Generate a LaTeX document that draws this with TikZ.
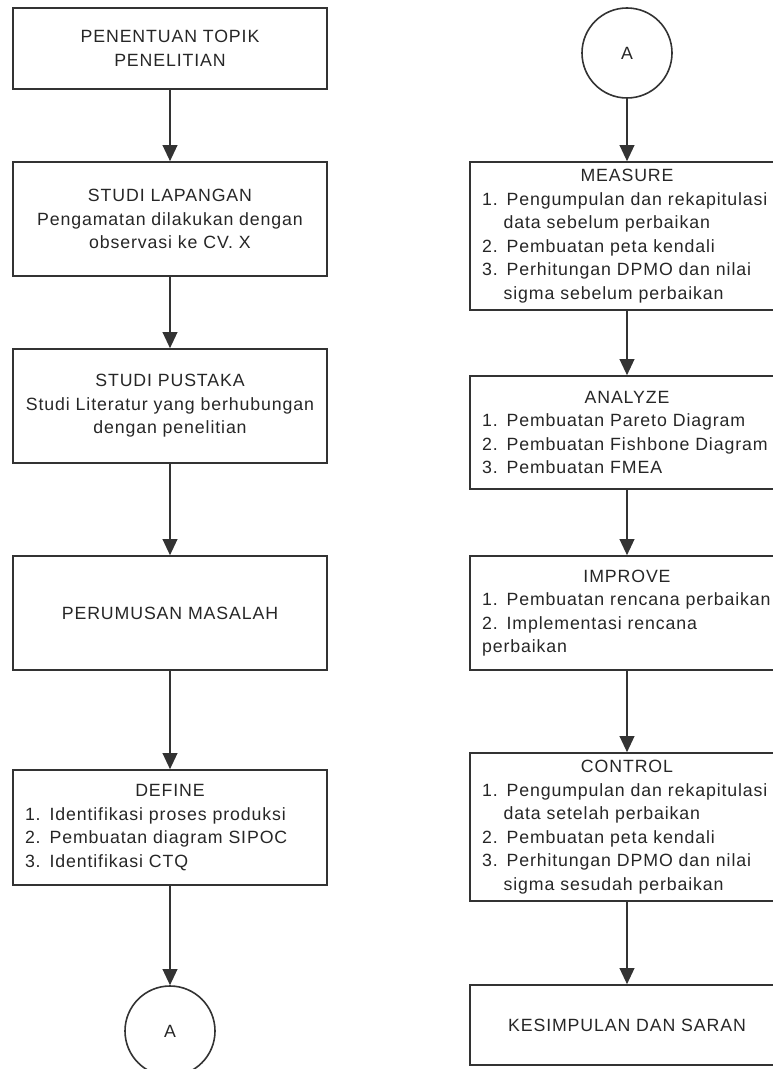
\documentclass[tikz,border=0pt]{standalone}
\usepackage{fontspec}
\setmainfont{Liberation Sans}[LetterSpace=5]
\usetikzlibrary{arrows.meta}
\newcommand{\hang}{\hphantom{1.\ }}

\begin{document}
\begin{tikzpicture}[x=0.75pt, y=-0.75pt,
 every node/.style={font=\fontsize{13.3}{17.6}\selectfont, text=black!85},
 box/.style={draw=black!80, line width=1.2pt, minimum width=235.5pt, inner sep=0pt},
 mid/.style={box, align=center},
 lst/.style={box, text width=217.5pt, align=left},
 con/.style={draw=black!80, line width=1.2pt, circle, minimum size=67.5pt, inner sep=0pt},
 arr/.style={draw=black!80, line width=1.2pt, -{Triangle[length=12pt,width=11pt]}}]
 \useasboundingbox (0,0) rectangle (773,1069);
 \clip (0,0) rectangle (773,1069);
 % left column
 \node[mid, minimum height=60.75pt] (topik) at (170,48.5) {PENENTUAN TOPIK\\PENELITIAN};
 \node[mid, minimum height=85.5pt] (lapangan) at (170,219) {STUDI LAPANGAN\\Pengamatan dilakukan dengan\\observasi ke CV. X};
 \node[mid, minimum height=85.5pt] (pustaka) at (170,406) {STUDI PUSTAKA\\Studi Literatur yang berhubungan\\dengan penelitian};
 \node[mid, minimum height=85.5pt] (masalah) at (170,613) {PERUMUSAN MASALAH};
 \node[lst, minimum height=86.25pt] (define) at (170,827.5) {\makebox[\linewidth]{DEFINE}\\1. Identifikasi proses produksi\\2. Pembuatan diagram SIPOC\\3. Identifikasi CTQ};
 \node[con] (a1) at (170,1031) {A};
 % right column
 \node[con] (a2) at (627,53) {A};
 \node[lst, minimum height=111pt] (measure) at (627,236) {\makebox[\linewidth]{MEASURE}\\1. Pengumpulan dan rekapitulasi\\\hang data sebelum perbaikan\\2. Pembuatan peta kendali\\3. Perhitungan DPMO dan nilai\\\hang sigma sebelum perbaikan};
 \node[lst, minimum height=84.75pt] (analyze) at (627,432.5) {\makebox[\linewidth]{ANALYZE}\\1. Pembuatan Pareto Diagram\\2. Pembuatan Fishbone Diagram\\3. Pembuatan FMEA};
 \node[lst, minimum height=85.5pt] (improve) at (627,613) {\makebox[\linewidth]{IMPROVE}\\1. Pembuatan rencana perbaikan\\2. Implementasi rencana\\perbaikan};
 \node[lst, minimum height=111pt] (control) at (627,827) {\makebox[\linewidth]{CONTROL}\\1. Pengumpulan dan rekapitulasi\\\hang data setelah perbaikan\\2. Pembuatan peta kendali\\3. Perhitungan DPMO dan nilai\\\hang sigma sesudah perbaikan};
 \node[mid, minimum height=60pt] (saran) at (627,1025) {KESIMPULAN DAN SARAN};
 % arrows
 \path (topik) edge[arr] (lapangan);
 \path (lapangan) edge[arr] (pustaka);
 \path (pustaka) edge[arr] (masalah);
 \path (masalah) edge[arr] (define);
 \path (define) edge[arr] (a1);
 \path (a2) edge[arr] (measure);
 \path (measure) edge[arr] (analyze);
 \path (analyze) edge[arr] (improve);
 \path (improve) edge[arr] (control);
 \path (control) edge[arr] (saran);
\end{tikzpicture}
\end{document}
